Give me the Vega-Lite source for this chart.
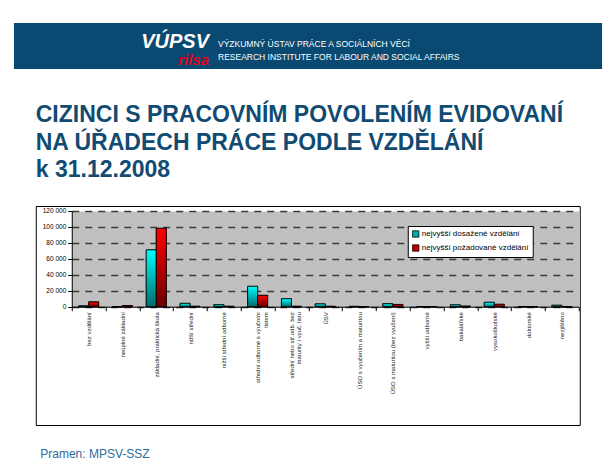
{
  "$schema": "https://vega.github.io/schema/vega-lite/v6.json",
  "background": "white",
  "padding": {"left": 14, "top": 23, "right": 0, "bottom": 0},
  "spacing": 34,
  "center": true,
  "resolve": {"scale": {"fill": "independent"}, "legend": {"fill": "independent"}},
  "config": {
    "font": "Liberation Sans",
    "view": {"stroke": null},
    "axis": {"labelFont": "Liberation Sans", "titleFont": "Liberation Sans"},
    "legend": {"labelFont": "Liberation Sans"}
  },
  "datasets": {
    "hlavicka": [
      {"prvek": "logo", "sloupec": "logo", "radek": 1, "t": "VÚPSV"},
      {"prvek": "rilsa", "sloupec": "logo", "radek": 2, "t": "rilsa"},
      {"prvek": "ustav", "sloupec": "text", "radek": 1, "t": "VÝZKUMNÝ ÚSTAV PRÁCE A SOCIÁLNÍCH VĚCÍ"},
      {"prvek": "ustav", "sloupec": "text", "radek": 2, "t": "RESEARCH INSTITUTE FOR LABOUR AND SOCIAL AFFAIRS"}
    ],
    "vzdelani": [
      {"kategorie": "bez vzdělání", "typ": "nejvyšší dosažené vzdělání", "pocet": 1000},
      {"kategorie": "bez vzdělání", "typ": "nejvyšší požadované vzdělání", "pocet": 6000},
      {"kategorie": "neúplné základní", "typ": "nejvyšší dosažené vzdělání", "pocet": 0},
      {"kategorie": "neúplné základní", "typ": "nejvyšší požadované vzdělání", "pocet": 1500},
      {"kategorie": "základní, praktická škola", "typ": "nejvyšší dosažené vzdělání", "pocet": 71000},
      {"kategorie": "základní, praktická škola", "typ": "nejvyšší požadované vzdělání", "pocet": 98000},
      {"kategorie": "nižší střední", "typ": "nejvyšší dosažené vzdělání", "pocet": 4200},
      {"kategorie": "nižší střední", "typ": "nejvyšší požadované vzdělání", "pocet": 500},
      {"kategorie": "nižší střední odborné", "typ": "nejvyšší dosažené vzdělání", "pocet": 2500},
      {"kategorie": "nižší střední odborné", "typ": "nejvyšší požadované vzdělání", "pocet": 500},
      {"kategorie": "střední odborné s výučním listem", "typ": "nejvyšší dosažené vzdělání", "pocet": 25500},
      {"kategorie": "střední odborné s výučním listem", "typ": "nejvyšší požadované vzdělání", "pocet": 14200},
      {"kategorie": "střední nebo stř.odb. bez maturity i výuč. listu", "typ": "nejvyšší dosažené vzdělání", "pocet": 10000},
      {"kategorie": "střední nebo stř.odb. bez maturity i výuč. listu", "typ": "nejvyšší požadované vzdělání", "pocet": 500},
      {"kategorie": "ÚSV", "typ": "nejvyšší dosažené vzdělání", "pocet": 3500},
      {"kategorie": "ÚSV", "typ": "nejvyšší požadované vzdělání", "pocet": 500},
      {"kategorie": "ÚSO s vyučením a maturitou", "typ": "nejvyšší dosažené vzdělání", "pocet": 400},
      {"kategorie": "ÚSO s vyučením a maturitou", "typ": "nejvyšší požadované vzdělání", "pocet": 0},
      {"kategorie": "ÚSO s maturitou (bez vyučení)", "typ": "nejvyšší dosažené vzdělání", "pocet": 3800},
      {"kategorie": "ÚSO s maturitou (bez vyučení)", "typ": "nejvyšší požadované vzdělání", "pocet": 2800},
      {"kategorie": "vyšší odborné", "typ": "nejvyšší dosažené vzdělání", "pocet": 0},
      {"kategorie": "vyšší odborné", "typ": "nejvyšší požadované vzdělání", "pocet": 0},
      {"kategorie": "bakalářské", "typ": "nejvyšší dosažené vzdělání", "pocet": 2300},
      {"kategorie": "bakalářské", "typ": "nejvyšší požadované vzdělání", "pocet": 700},
      {"kategorie": "vysokoškolské", "typ": "nejvyšší dosažené vzdělání", "pocet": 5500},
      {"kategorie": "vysokoškolské", "typ": "nejvyšší požadované vzdělání", "pocet": 3000},
      {"kategorie": "doktorské", "typ": "nejvyšší dosažené vzdělání", "pocet": 0},
      {"kategorie": "doktorské", "typ": "nejvyšší požadované vzdělání", "pocet": 0},
      {"kategorie": "nezjištěno", "typ": "nejvyšší dosažené vzdělání", "pocet": 1800},
      {"kategorie": "nezjištěno", "typ": "nejvyšší požadované vzdělání", "pocet": 0}
    ]
  },
  "vconcat": [
    {
      "width": 588,
      "height": 46,
      "view": {"fill": "#0a4a72", "stroke": null},
      "data": {"name": "hlavicka"},
      "resolve": {"scale": {"y": "independent"}},
      "layer": [
        {
          "transform": [{"filter": "datum.prvek == 'logo'"}],
          "mark": {"type": "text", "align": "right", "baseline": "alphabetic", "font": "Liberation Sans", "fontSize": 20, "fontWeight": "bold", "fontStyle": "italic", "fill": "white"},
          "encoding": {
            "x": {"field": "sloupec", "type": "nominal", "scale": {"type": "point", "range": [195, 204], "padding": 0}, "axis": null},
            "y": {"field": "radek", "type": "ordinal", "scale": {"type": "point", "domain": [1, 2], "range": [25, 42], "padding": 0}, "axis": null},
            "text": {"field": "t"}
          }
        },
        {
          "transform": [{"filter": "datum.prvek == 'rilsa'"}],
          "mark": {"type": "text", "align": "right", "baseline": "alphabetic", "font": "Liberation Sans", "fontSize": 15, "fontWeight": "bold", "fontStyle": "italic", "fill": "#e3001b"},
          "encoding": {
            "x": {"field": "sloupec", "type": "nominal", "scale": {"type": "point", "range": [195, 204], "padding": 0}, "axis": null},
            "y": {"field": "radek", "type": "ordinal", "scale": {"type": "point", "domain": [1, 2], "range": [25, 42], "padding": 0}, "axis": null},
            "text": {"field": "t"}
          }
        },
        {
          "transform": [{"filter": "datum.prvek == 'ustav'"}],
          "mark": {"type": "text", "align": "left", "baseline": "alphabetic", "font": "Liberation Sans", "fontSize": 8.5, "fill": "white"},
          "encoding": {
            "x": {"field": "sloupec", "type": "nominal", "scale": {"type": "point", "range": [195, 204], "padding": 0}, "axis": null},
            "y": {"field": "radek", "type": "ordinal", "scale": {"type": "point", "domain": [1, 2], "range": [24, 37], "padding": 0}, "axis": null},
            "text": {"field": "t"}
          }
        }
      ]
    },
    {
      "width": 544,
      "height": 219,
      "view": {"stroke": "black", "strokeWidth": 1, "fill": "white"},
      "title": {
        "text": ["CIZINCI S PRACOVNÍM POVOLENÍM EVIDOVANÍ", "NA ÚŘADECH PRÁCE PODLE VZDĚLÁNÍ", "k 31.12.2008"],
        "anchor": "start",
        "frame": "group",
        "offset": 24,
        "fontSize": 23,
        "lineHeight": 27.5,
        "font": "Liberation Sans",
        "fontWeight": "bold",
        "color": "#124b72"
      },
      "data": {"name": "vzdelani"},
      "resolve": {"axis": {"y": "independent"}},
      "layer": [
        {
          "mark": {"type": "bar", "stroke": "black", "strokeWidth": 0.8},
          "encoding": {
            "x": {
              "field": "kategorie", "type": "nominal", "sort": null,
              "scale": {"range": [36, 543], "paddingInner": 0, "paddingOuter": 0},
              "axis": {
                "orient": "bottom", "offset": -118.3, "zindex": 1,
                "title": "Pramen: MPSV-SSZ", "titleX": 4, "titleY": 151, "titleAlign": "left", "titleAnchor": "start", "titleBaseline": "alphabetic",
                "titleFontSize": 12, "titleFontWeight": "normal", "titleColor": "#2f6b9c",
                "labelAngle": 270, "labelAlign": "right", "labelBaseline": "middle", "labelFontSize": 6, "labelColor": "#222222",
                "labelPadding": 1, "labelLimit": 300, "labelLineHeight": 7.5, "labelOverlap": false,
                "labelExpr": "datum.label == 'střední odborné s výučním listem' ? ['střední odborné s výučním', 'listem'] : datum.label == 'střední nebo stř.odb. bez maturity i výuč. listu' ? ['střední nebo stř.odb. bez', 'maturity i výuč. listu'] : datum.label",
                "tickBand": "extent", "tickSize": 4, "tickColor": "black", "domainColor": "black", "domainWidth": 1, "grid": false
              }
            },
            "xOffset": {"field": "typ", "type": "nominal", "scale": {"paddingInner": 0, "paddingOuter": 0.69}},
            "y": {
              "field": "pocet", "type": "quantitative",
              "scale": {"domain": [0, 120000], "nice": false, "range": [100.7, 4.7]},
              "axis": {"orient": "left", "values": [60000], "grid": true, "gridColor": "#c0c0c0", "gridWidth": 96, "gridOpacity": 1, "labels": false, "ticks": false, "domain": false, "title": null}
            },
            "fill": {
              "field": "typ", "type": "nominal",
              "scale": {"range": ["#00b0b0", "#c00000"]},
              "legend": {
                "orient": "none", "legendX": 372, "legendY": 20, "title": null,
                "fillColor": "white", "strokeColor": "black", "padding": 4,
                "symbolType": "square", "symbolSize": 40, "symbolStrokeColor": "black", "symbolStrokeWidth": 0.8,
                "labelFontSize": 8, "labelColor": "black", "labelOffset": 2, "rowPadding": 4
              }
            }
          }
        },
        {
          "transform": [{"filter": "datum.typ == 'nejvyšší dosažené vzdělání'"}],
          "mark": {
            "type": "bar", "stroke": "black", "strokeWidth": 0.8,
            "fill": {"gradient": "linear", "x1": 0, "y1": 0, "x2": 0, "y2": 1, "stops": [{"offset": 0, "color": "#00ffff"}, {"offset": 1, "color": "#006a6a"}]}
          },
          "encoding": {
            "x": {
              "field": "kategorie", "type": "nominal", "sort": null,
              "scale": {"range": [36, 543], "paddingInner": 0, "paddingOuter": 0},
              "axis": {
                "orient": "bottom", "offset": -118.3, "zindex": 1,
                "title": "Pramen: MPSV-SSZ", "titleX": 4, "titleY": 151, "titleAlign": "left", "titleAnchor": "start", "titleBaseline": "alphabetic",
                "titleFontSize": 12, "titleFontWeight": "normal", "titleColor": "#2f6b9c",
                "labelAngle": 270, "labelAlign": "right", "labelBaseline": "middle", "labelFontSize": 6, "labelColor": "#222222",
                "labelPadding": 1, "labelLimit": 300, "labelLineHeight": 7.5, "labelOverlap": false,
                "labelExpr": "datum.label == 'střední odborné s výučním listem' ? ['střední odborné s výučním', 'listem'] : datum.label == 'střední nebo stř.odb. bez maturity i výuč. listu' ? ['střední nebo stř.odb. bez', 'maturity i výuč. listu'] : datum.label",
                "tickBand": "extent", "tickSize": 4, "tickColor": "black", "domainColor": "black", "domainWidth": 1, "grid": false
              }
            },
            "xOffset": {"field": "typ", "type": "nominal", "scale": {"paddingInner": 0, "paddingOuter": 0.69}},
            "y": {
              "field": "pocet", "type": "quantitative",
              "scale": {"domain": [0, 120000], "nice": false, "range": [100.7, 4.7]},
              "axis": {
                "orient": "left", "offset": -36, "title": null,
                "values": [0, 20000, 40000, 60000, 80000, 100000, 120000],
                "labelExpr": "replace(format(datum.value, ','), ',', ' ')",
                "grid": true, "gridColor": "#3a3a3a", "gridDash": [7, 6], "gridWidth": 1.3,
                "tickSize": 4, "tickColor": "black", "domainColor": "black", "domainWidth": 1,
                "labelFontSize": 6.5, "labelColor": "black", "labelPadding": 2
              }
            }
          }
        },
        {
          "transform": [{"filter": "datum.typ == 'nejvyšší požadované vzdělání'"}],
          "mark": {
            "type": "bar", "stroke": "black", "strokeWidth": 0.8,
            "fill": {"gradient": "linear", "x1": 0, "y1": 0, "x2": 0, "y2": 1, "stops": [{"offset": 0, "color": "#ff0000"}, {"offset": 1, "color": "#6a0000"}]}
          },
          "encoding": {
            "x": {
              "field": "kategorie", "type": "nominal", "sort": null,
              "scale": {"range": [36, 543], "paddingInner": 0, "paddingOuter": 0},
              "axis": {
                "orient": "bottom", "offset": -118.3, "zindex": 1,
                "title": "Pramen: MPSV-SSZ", "titleX": 4, "titleY": 151, "titleAlign": "left", "titleAnchor": "start", "titleBaseline": "alphabetic",
                "titleFontSize": 12, "titleFontWeight": "normal", "titleColor": "#2f6b9c",
                "labelAngle": 270, "labelAlign": "right", "labelBaseline": "middle", "labelFontSize": 6, "labelColor": "#222222",
                "labelPadding": 1, "labelLimit": 300, "labelLineHeight": 7.5, "labelOverlap": false,
                "labelExpr": "datum.label == 'střední odborné s výučním listem' ? ['střední odborné s výučním', 'listem'] : datum.label == 'střední nebo stř.odb. bez maturity i výuč. listu' ? ['střední nebo stř.odb. bez', 'maturity i výuč. listu'] : datum.label",
                "tickBand": "extent", "tickSize": 4, "tickColor": "black", "domainColor": "black", "domainWidth": 1, "grid": false
              }
            },
            "xOffset": {"field": "typ", "type": "nominal", "scale": {"paddingInner": 0, "paddingOuter": 0.69}},
            "y": {
              "field": "pocet", "type": "quantitative",
              "scale": {"domain": [0, 120000], "nice": false, "range": [100.7, 4.7]},
              "axis": null
            }
          }
        }
      ]
    }
  ]
}
